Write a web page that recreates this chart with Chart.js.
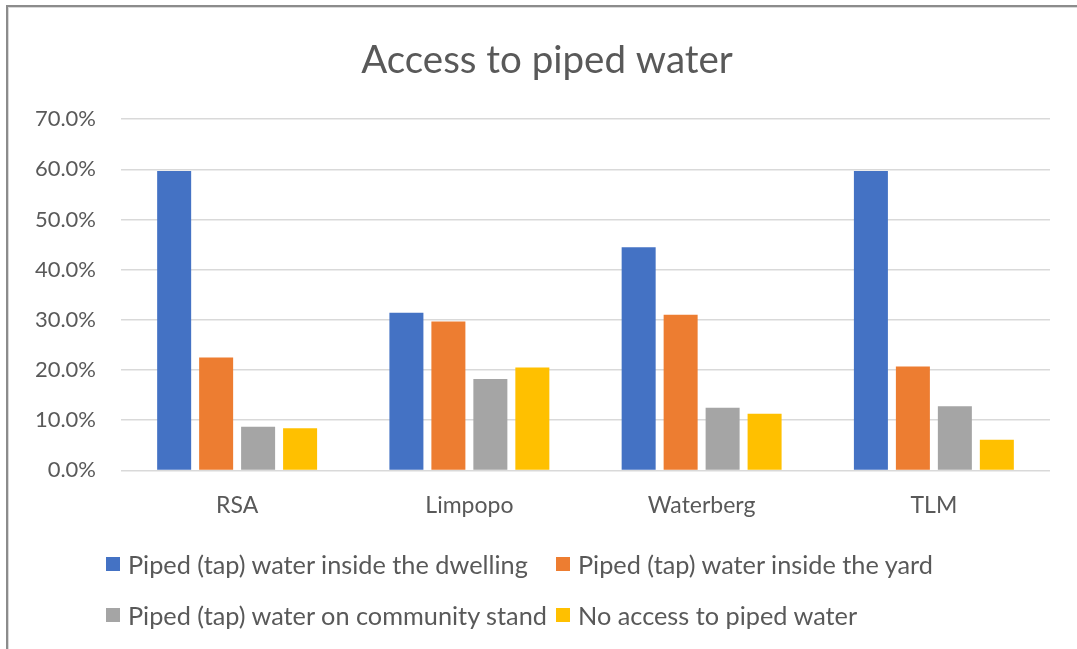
<!DOCTYPE html>
<html>
<head>
<meta charset="utf-8">
<script src="https://cdn.jsdelivr.net/npm/chart.js@4.4.1/dist/chart.umd.min.js"></script>
<style>
  html, body { margin: 0; padding: 0; background: #ffffff; }
  #wrap { position: relative; width: 1077px; height: 649px; overflow: hidden; background: #fff; }
  #frame { position: absolute; left: 6px; top: 5px; width: 1200px; height: 800px;
           border-left: 2px solid #8c8c8c; border-top: 2px solid #8c8c8c;
           box-shadow: inset 1px 1px 0 #d9d9d9; pointer-events: none; }
  canvas { position: absolute; left: 0; top: 0; }
  #legend { position: absolute; left: 0; top: 0; width: 1077px; height: 649px; pointer-events: none;
            font-family: Lato, "Open Sans", sans-serif; font-size: 25.3px; color: #595959; }
  .item { position: absolute; display: flex; align-items: center; white-space: nowrap; height: 30px; }
  .box { width: 14px; height: 14px; margin-right: 8px; flex: none; }
</style>
</head>
<body>
<div id="wrap">
  <canvas id="c" width="1077" height="649"></canvas>
  <div id="legend"></div>
  <div id="frame"></div>
</div>
<script>
const categories = ['RSA', 'Limpopo', 'Waterberg', 'TLM'];
const seriesNames = [
  'Piped (tap) water inside the dwelling',
  'Piped (tap) water inside the yard',
  'Piped (tap) water on community stand',
  'No access to piped water'
];
const insideDwelling = [59.7, 31.4, 44.5, 59.7];
const insideYard     = [22.5, 29.7, 31.0, 20.7];
const communityStand = [8.7, 18.2, 12.5, 12.8];
const noAccess       = [8.4, 20.5, 11.3, 6.1];
const seriesColors = ['#4472C4', '#ED7D31', '#A5A5A5', '#FFC000'];
const yTickValues = [0, 10, 20, 30, 40, 50, 60, 70];

const seriesValues = [insideDwelling, insideYard, communityStand, noAccess];
const textColor = '#595959';

const chart = new Chart(document.getElementById('c'), {
  type: 'bar',
  data: {
    labels: categories,
    datasets: seriesValues.map((vals, i) => ({
      label: seriesNames[i],
      data: vals,
      backgroundColor: seriesColors[i],
      borderWidth: 0,
      categoryPercentage: 0.723,
      barPercentage: 0.81
    }))
  },
  options: {
    responsive: false,
    devicePixelRatio: 1,
    animation: false,
    layout: { padding: { left: 24, right: 7, top: 0, bottom: 117 } },
    plugins: {
      legend: { display: false },
      tooltip: { enabled: false },
      title: {
        display: true,
        text: 'Access to piped water',
        color: textColor,
        font: { family: 'Lato', size: 38.5, weight: 'normal' },
        padding: { top: 37, bottom: 36 }
      }
    },
    scales: {
      x: {
        grid: { display: false },
        border: { display: false },
        ticks: { color: textColor, font: { family: 'Lato', size: 23 }, padding: 13 }
      },
      y: {
        min: 0, max: 70,
        border: { display: false },
        grid: { color: '#d9d9d9', lineWidth: 1.5, drawTicks: false },
        afterFit: (scale) => { scale.width = 97; },
        afterBuildTicks: (scale) => { scale.ticks = yTickValues.map(v => ({ value: v })); },
        ticks: {
          color: textColor,
          font: { family: 'Lato', size: 22 },
          padding: 25,
          callback: (v) => Number(v).toFixed(1) + '%'
        }
      },
      yr: {
        type: 'linear',
        position: 'right',
        display: true,
        grid: { display: false },
        border: { display: false },
        ticks: { display: false },
        afterFit: (scale) => { scale.width = 20; }
      }
    }
  }
});

// Legend (two columns, Excel style)
const legend = document.getElementById('legend');
const legendPos = [[106, 549], [556, 549], [106, 600], [556, 600]];
seriesNames.forEach((name, i) => {
  const it = document.createElement('div');
  it.className = 'item';
  it.style.left = legendPos[i][0] + 'px';
  it.style.top = legendPos[i][1] + 'px';
  const b = document.createElement('span');
  b.className = 'box';
  b.style.background = seriesColors[i];
  const t = document.createElement('span');
  t.textContent = name;
  it.appendChild(b); it.appendChild(t);
  legend.appendChild(it);
});
</script>
</body>
</html>
